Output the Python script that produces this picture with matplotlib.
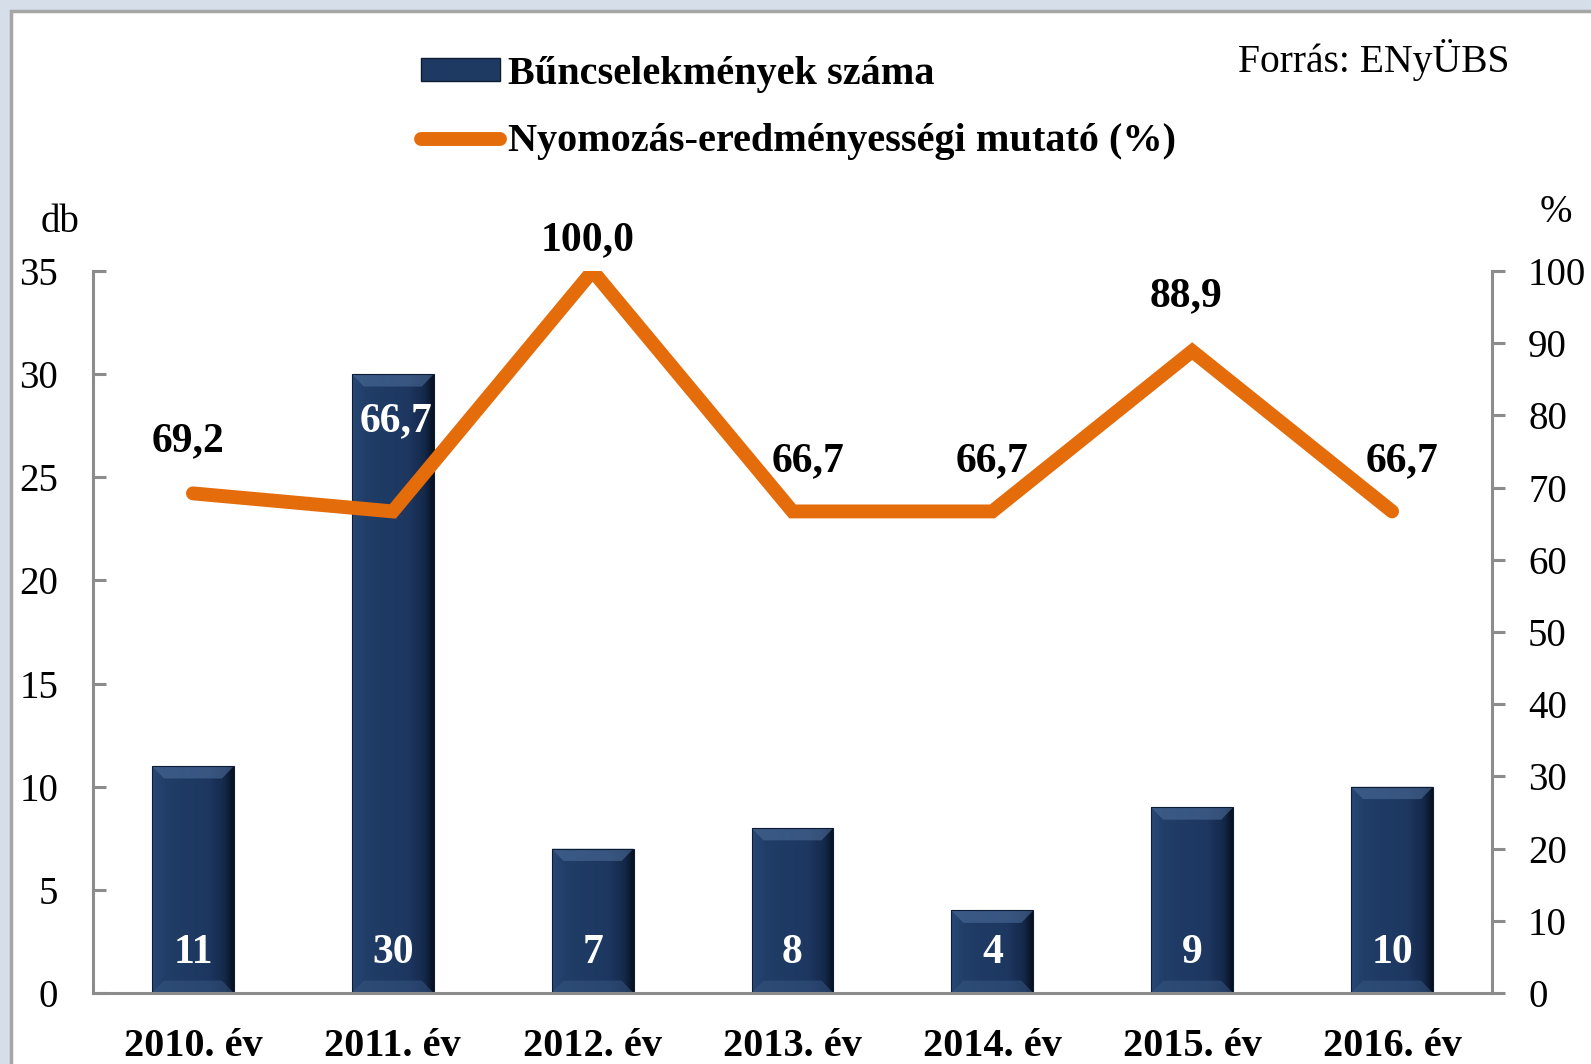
import matplotlib
matplotlib.use("Agg")
import matplotlib.pyplot as plt
import numpy as np
from matplotlib.patches import Rectangle, Polygon
from matplotlib.lines import Line2D
from matplotlib.colors import LinearSegmentedColormap

# ---- data ----
categories = ["2010. év", "2011. év", "2012. év", "2013. év", "2014. év", "2015. év", "2016. év"]
crimes = [11, 30, 7, 8, 4, 9, 10]
rate = [69.2, 66.7, 100.0, 66.7, 66.7, 88.9, 66.7]
left_ticks = [0, 5, 10, 15, 20, 25, 30, 35]
right_ticks = [0, 10, 20, 30, 40, 50, 60, 70, 80, 90, 100]
bar_label_name = "Bűncselekmények száma"
line_label_name = "Nyomozás-eredményességi mutató (%)"

# ---- style ----
rate_offsets = [(-5, 52), (3, 90), (-5, 31), (16, 50), (0, 50), (-6, 55), (10, 50)]
rate_colors = ["black", "white", "black", "black", "black", "black", "black"]

plt.rcParams["font.family"] = ["Liberation Serif", "DejaVu Serif"]
W, H = 1591, 1064
fig = plt.figure(figsize=(W / 100, H / 100), dpi=100, facecolor="#d6deea")

# background panel
bg = fig.add_axes([0, 0, 1, 1], zorder=-10)
bg.set_axis_off()
bg.set_xlim(0, W)
bg.set_ylim(H, 0)
bg.add_patch(Rectangle((11, 11), W, H, facecolor="white", edgecolor="#a6a6a6", linewidth=2.5))

ax = fig.add_axes([93 / W, 1 - 993 / H, (1492 - 93) / W, (993 - 271) / H])
ax.set_facecolor("none")
ax2 = ax.twinx()

x = np.arange(len(categories))
spine_col = "#8c8c8c"
navy = "#1f3a62"

bars = ax.bar(x, crimes, width=0.41, color=navy, zorder=2, linewidth=0)

grad = np.linspace(0, 1, 64).reshape(1, -1)
cmap = LinearSegmentedColormap.from_list(
    "bev", [(0, "#284876"), (0.15, "#203e68"), (0.7, "#1d3760"), (0.9, "#14284a"), (1.0, "#07111f")])
by = 0.6
for b in bars:
    x0, w, h = b.get_x(), b.get_width(), b.get_height()
    bx = 0.06
    im = ax.imshow(grad, extent=[x0, x0 + w, 0, h], aspect="auto", cmap=cmap, zorder=2.1,
                   interpolation="bicubic")
    im.set_clip_path(b)
    ax.add_patch(Polygon([(x0, h), (x0 + w, h), (x0 + w - bx, h - by), (x0 + bx, h - by)],
                         closed=True, facecolor="#4b6b97", edgecolor="none", alpha=0.6, zorder=2.2))
    ax.add_patch(Polygon([(x0, 0), (x0 + w, 0), (x0 + w - bx, by), (x0 + bx, by)],
                         closed=True, facecolor="#36557f", edgecolor="none", alpha=0.55, zorder=2.2))
    ax.add_patch(Rectangle((x0, 0), w, h, facecolor="none", edgecolor="#0e1c33",
                           linewidth=0.8, zorder=2.3))

for xi, v in zip(x, crimes):
    ax.annotate(str(v), (xi, 0), xytext=(0, 40), textcoords="offset pixels",
                ha="center", va="center", color="white", fontsize=30, fontweight="bold",
                zorder=5)

ax.set_xlim(-0.5, len(categories) - 0.5)
ax.set_ylim(0, 35)
ax.set_yticks(left_ticks)
ax.set_xticks(x)
ax.set_xticklabels(categories, fontsize=29, fontweight="bold")
ax.tick_params(axis="x", length=0, pad=25)
ax.tick_params(axis="y", direction="in", length=9, width=2.2, color=spine_col,
               labelsize=28, pad=25)

orange = "#e46c0a"
ax2.plot(x, rate, color=orange, linewidth=10, solid_capstyle="round",
         solid_joinstyle="miter", zorder=4)
ax2.set_ylim(0, 100)
ax2.set_yticks(right_ticks)
ax2.tick_params(axis="y", direction="out", length=9, width=2.2, color=spine_col,
                labelsize=28, pad=17)

for xi, v, (dx, dy), c in zip(x, rate, rate_offsets, rate_colors):
    ax2.annotate(f"{v:.1f}".replace(".", ","), (xi, v), xytext=(dx, dy),
                 textcoords="offset pixels", ha="center", va="center",
                 fontsize=30, fontweight="bold", color=c, zorder=6)

for a in (ax, ax2):
    a.spines["top"].set_visible(False)
    for s in ("left", "right", "bottom"):
        a.spines[s].set_color(spine_col)
        a.spines[s].set_linewidth(2.2)
ax.spines["right"].set_visible(False)
ax2.spines["left"].set_visible(False)
ax2.spines["bottom"].set_visible(False)

fig.text(60 / W, 1 - 222 / H, "db", fontsize=28, ha="center", va="center")
fig.text(1556 / W, 1 - 213 / H, "%", fontsize=28, ha="center", va="center")
fig.text(1509 / W, 1 - 60 / H, "Forrás: ENyÜBS", fontsize=28.5, ha="right", va="center")

bar_handle = Rectangle((0, 0), 1, 1, facecolor=navy, edgecolor="#0e1c33")
line_handle = Line2D([0], [0], color=orange, linewidth=10, solid_capstyle="round")
fig.legend([bar_handle, line_handle], [bar_label_name, line_label_name],
           loc="upper left", bbox_to_anchor=(385 / W, 1 - 20 / H),
           frameon=False, prop={"size": 29, "weight": "bold"},
           handlelength=1.95, handleheight=0.5, handletextpad=0.2,
           labelspacing=0.75)

fig.savefig("out.png", dpi=100, facecolor=fig.get_facecolor())
